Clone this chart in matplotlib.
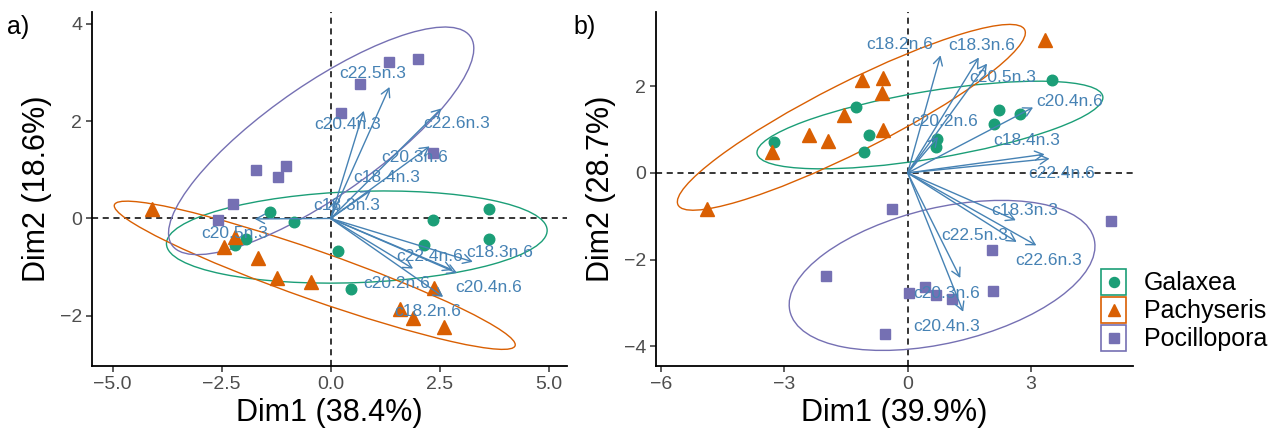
import numpy as np
import matplotlib
matplotlib.use("Agg")
import matplotlib.pyplot as plt
from matplotlib.patches import Ellipse, Rectangle

plt.rcParams['font.family'] = ['Liberation Sans', 'DejaVu Sans']

# Group colours / markers
GROUPS = ["Galaxea", "Pachyseris", "Pocillopora"]
COLORS = {"Galaxea": "#1B9E77", "Pachyseris": "#D95F02", "Pocillopora": "#7570B3"}
MARKERS = {"Galaxea": "o", "Pachyseris": "^", "Pocillopora": "s"}
MSIZE = {"Galaxea": 7.6, "Pachyseris": 9.5, "Pocillopora": 7.4}
ARROW_COLOR = "#4682B4"

# ---- panel a: individuals (Dim1, Dim2)
a_galaxea_x = [-1.39, -0.84, 2.34, 3.63, 3.63, 2.13, 0.18, 0.47, -1.95, -2.20]
a_galaxea_y = [0.14, -0.08, -0.03, 0.20, -0.42, -0.55, -0.66, -1.44, -0.43, -0.55]
a_pachyseris_x = [-4.09, -2.20, -2.45, -1.66, -1.23, -0.45, 2.38, 1.59, 1.88, 2.59]
a_pachyseris_y = [0.19, -0.38, -0.58, -0.82, -1.23, -1.30, -1.42, -1.85, -2.05, -2.23]
a_pocillopora_x = [2.01, 1.34, 0.68, 0.23, 2.34, -1.72, -1.03, -1.20, -2.24, -2.58]
a_pocillopora_y = [3.27, 3.22, 2.76, 2.16, 1.34, 0.99, 1.08, 0.86, 0.29, -0.03]

# panel a: variable loadings (arrow tips)
a_vars = ["c22.5n.3", "c20.4n.3", "c22.6n.3", "c20.3n.6", "c18.4n.3", "c18.3n.3",
          "c20.5n.3", "c22.4n.6", "c18.3n.6", "c20.4n.6", "c20.2n.6", "c18.2n.6"]
a_var_x = [1.35, 0.76, 2.54, 2.27, 0.93, 0.12, -1.74, 1.89, 3.26, 2.58, 2.80, 2.90]
a_var_y = [2.70, 2.21, 2.26, 1.48, 0.58, 0.38, -0.01, -1.03, -0.89, -1.61, -1.06, -1.12]
# repelled label positions
a_lab_x = [0.97, 0.40, 2.88, 1.93, 1.29, 0.36, -2.20, 2.27, 3.88, 3.63, 1.52, 2.22]
a_lab_y = [2.98, 1.92, 1.95, 1.25, 0.85, 0.26, -0.31, -0.79, -0.70, -1.42, -1.34, -1.92]

# ---- panel b
b_galaxea_x = [3.50, 2.21, 2.72, 2.10, -1.26, -0.93, -1.07, -3.25, 0.71, 0.69]
b_galaxea_y = [2.14, 1.45, 1.37, 1.12, 1.51, 0.87, 0.48, 0.72, 0.79, 0.60]
b_pachyseris_x = [3.35, -1.11, -0.60, -0.63, -1.55, -0.61, -2.41, -1.93, -3.31, -4.89]
b_pachyseris_y = [3.06, 2.15, 2.18, 1.85, 1.33, 0.98, 0.88, 0.73, 0.48, -0.82]
b_pocillopora_x = [-0.39, 4.94, 2.06, -1.98, 2.08, 0.03, 0.42, 0.68, 1.08, -0.55]
b_pocillopora_y = [-0.82, -1.11, -1.78, -2.38, -2.71, -2.77, -2.62, -2.82, -2.90, -3.71]

b_vars = ["c18.2n.6", "c18.3n.6", "c20.5n.3", "c20.4n.6", "c20.2n.6", "c18.4n.3",
          "c22.4n.6", "c18.3n.3", "c22.5n.3", "c22.6n.3", "c20.3n.6", "c20.4n.3"]
b_var_x = [0.80, 1.73, 1.93, 3.05, 0.74, 3.33, 3.45, 2.63, 2.65, 3.13, 1.28, 1.35]
b_var_y = [2.71, 2.66, 2.52, 1.51, 0.83, 0.43, 0.33, -1.09, -1.59, -1.67, -2.42, -3.20]
b_lab_x = [-0.19, 1.79, 2.32, 3.94, 0.90, 2.89, 3.74, 2.85, 1.63, 3.42, 0.94, 0.94]
b_lab_y = [2.95, 2.94, 2.21, 1.64, 1.18, 0.75, -0.01, -0.86, -1.44, -2.01, -2.78, -3.55]

ELLIPSE_LEVEL = 0.8


def add_ellipse(ax, x, y, color):
    """Normal-theory ellipse (F-scaled, as in stat_ellipse type='norm')."""
    pts = np.column_stack([x, y])
    n = len(pts)
    center = pts.mean(axis=0)
    cov = np.cov(pts, rowvar=False)
    nu = n - 1
    fq = (nu / 2.0) * ((1 - ELLIPSE_LEVEL) ** (-2.0 / nu) - 1)
    k = np.sqrt(2 * fq)
    vals, vecs = np.linalg.eigh(cov)
    order = vals.argsort()[::-1]
    vals, vecs = vals[order], vecs[:, order]
    angle = np.degrees(np.arctan2(vecs[1, 0], vecs[0, 0]))
    ell = Ellipse(center, 2 * k * np.sqrt(vals[0]), 2 * k * np.sqrt(vals[1]),
                  angle=angle, fill=False, edgecolor=color, lw=1.0, zorder=2)
    ax.add_patch(ell)


def draw_panel(ax, groups, vars_, vx, vy, lx, ly, xlim, ylim, xticks, yticks,
               xfmt, xlabel, ylabel):
    ax.axhline(0, color="black", ls=(0, (4, 3)), lw=1.1, zorder=1)
    ax.axvline(0, color="black", ls=(0, (4, 3)), lw=1.1, zorder=1)
    for g, (x, y) in groups.items():
        ax.plot(x, y, ls="none", marker=MARKERS[g], ms=MSIZE[g], color=COLORS[g],
                mec=COLORS[g], zorder=3)
        add_ellipse(ax, x, y, COLORS[g])
    for name, x, y, tx, ty in zip(vars_, vx, vy, lx, ly):
        ax.annotate("", xy=(x, y), xytext=(0, 0),
                    arrowprops=dict(arrowstyle="->,head_length=0.6,head_width=0.33",
                                    color=ARROW_COLOR, lw=1.0, shrinkA=0, shrinkB=0),
                    zorder=4)
        ax.text(tx, ty, name, color=ARROW_COLOR, fontsize=12.5, ha="center",
                va="center", zorder=5)
    ax.set_xlim(*xlim)
    ax.set_ylim(*ylim)
    ax.set_xticks(xticks)
    ax.set_xticklabels([xfmt.format(t).replace("-", "\u2212") for t in xticks])
    ax.set_yticks(yticks)
    ax.set_yticklabels([str(t).replace("-", "\u2212") for t in yticks])
    for s in ["top", "right"]:
        ax.spines[s].set_visible(False)
    for s in ["left", "bottom"]:
        ax.spines[s].set_linewidth(1.3)
    ax.tick_params(direction="out", length=4, width=1.1, labelsize=14,
                   labelcolor="#4D4D4D", color="#333333", pad=3)
    ax.set_xlabel(xlabel, fontsize=22, labelpad=4)
    ax.set_ylabel(ylabel, fontsize=22, labelpad=6)


fig = plt.figure(figsize=(12.84, 4.44), dpi=100)
ax_a = fig.add_axes([0.0717, 0.1757, 0.3699, 0.7973])
ax_b = fig.add_axes([0.5109, 0.1757, 0.3715, 0.7973])

draw_panel(ax_a,
           {"Galaxea": (a_galaxea_x, a_galaxea_y),
            "Pachyseris": (a_pachyseris_x, a_pachyseris_y),
            "Pocillopora": (a_pocillopora_x, a_pocillopora_y)},
           a_vars, a_var_x, a_var_y, a_lab_x, a_lab_y,
           (-5.47, 5.42), (-3.03, 4.24), [-5.0, -2.5, 0.0, 2.5, 5.0], [-2, 0, 2, 4],
           "{:.1f}", "Dim1 (38.4%)", "Dim2 (18.6%)")
draw_panel(ax_b,
           {"Galaxea": (b_galaxea_x, b_galaxea_y),
            "Pachyseris": (b_pachyseris_x, b_pachyseris_y),
            "Pocillopora": (b_pocillopora_x, b_pocillopora_y)},
           b_vars, b_var_x, b_var_y, b_lab_x, b_lab_y,
           (-6.12, 5.48), (-4.45, 3.71), [-6, -3, 0, 3], [-4, -2, 0, 2],
           "{:d}", "Dim1 (39.9%)", "Dim2 (28.7%)")

# panel tags and legend drawn on a pixel-space overlay
ov = fig.add_axes([0, 0, 1, 1])
ov.set_xlim(0, 1284)
ov.set_ylim(444, 0)
ov.axis("off")
ov.text(7, 27, "a)", fontsize=18, va="center", ha="left")
ov.text(573, 27, "b)", fontsize=18, va="center", ha="left")

for i, g in enumerate(GROUPS):
    y0 = 269 + i * 28
    ov.add_patch(Rectangle((1101, y0), 25, 26, fill=False, edgecolor=COLORS[g], lw=1.2))
    ov.plot([1113.5], [y0 + 13], marker=MARKERS[g], ms=MSIZE[g] * 0.95, color=COLORS[g],
            ls="none")
    ov.text(1144, y0 + 14, g, fontsize=18, va="center", ha="left")

fig.savefig("out.png", dpi=100)
